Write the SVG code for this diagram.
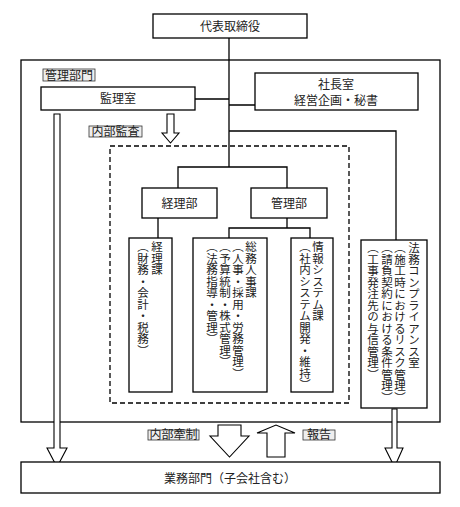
<svg xmlns="http://www.w3.org/2000/svg" width="460" height="507" viewBox="0 0 460 507">
<style>
.b{fill:#fff;stroke:#000;stroke-width:1.3}
.ln{fill:none;stroke:#000;stroke-width:1.3}
.ar{fill:#fff;stroke:#000;stroke-width:1.1;stroke-linejoin:miter}
.lb{fill:#eee;stroke:#333;stroke-width:0.8}
text{font-family:"Noto Sans CJK JP","Noto Sans",sans-serif;fill:#222;font-size:12px}
.h{text-anchor:middle}
.v{writing-mode:vertical-rl;font-size:11.5px}
</style>
<rect width="460" height="507" fill="#fff"/>
<rect id="frame" x="21" y="60" width="419" height="362" class="b"/>
<rect id="dash" x="110" y="146" width="239" height="257" fill="none" stroke="#000" stroke-width="1.3" stroke-dasharray="5,3"/>
<g id="connectors">
<path class="ln" d="M229 38V167M195 99H229M229 105H255M229 131H396V240M178 188V167H287V188M158 218V238M287 218V228M229 238V228H310V238"/>
</g>
<g id="ceo"><rect x="153" y="14" width="154" height="24" class="b"/><text x="230" y="30.5" class="h">代表取締役</text></g>
<g id="lbl1"><rect x="43" y="69" width="52" height="12" class="lb"/><text x="69" y="79.5" class="h" font-size="11">管理部門</text></g>
<g id="kansa"><rect x="41" y="87" width="154" height="23" class="b"/><text x="118" y="103" class="h">監理室</text></g>
<g id="shacho"><rect x="255" y="73" width="163" height="37" class="b"/><text x="336" y="89" class="h">社長室</text><text x="336" y="105" class="h">経営企画・秘書</text></g>
<g id="lbl2"><rect x="89" y="126" width="53" height="11" class="lb"/><text x="115.5" y="136" class="h" font-size="11">内部監査</text></g>
<g id="keiribu"><rect x="142" y="188" width="75" height="30" class="b"/><text x="179.5" y="207.5" class="h">経理部</text></g>
<g id="kanribu"><rect x="251" y="188" width="76" height="30" class="b"/><text x="289" y="207.5" class="h">管理部</text></g>
<g id="keirika"><rect x="129" y="238" width="43" height="154" class="b"/>
<text x="157" y="241" class="v">経理課</text><text x="143" y="241" class="v">（財務・会計・税務）</text></g>
<g id="somu"><rect x="193" y="238" width="74" height="154" class="b"/>
<text x="251" y="241" class="v">総務人事課</text><text x="238" y="241" class="v">（人事・採用・労務管理）</text><text x="225" y="241" class="v">（予算統制・株式管理）</text><text x="212" y="241" class="v">（法務指導・管理）</text></g>
<g id="joho"><rect x="291" y="238" width="42" height="154" class="b"/>
<text x="318" y="241" class="v">情報システム課</text><text x="305" y="241" class="v">（社内システム開発・維持）</text></g>
<g id="homu"><rect x="361" y="240" width="66" height="168" class="b"/>
<text x="414" y="242" class="v">法務コンプライアンス室</text><text x="400" y="242" class="v">（施工時におけるリスク管理）</text><text x="387" y="242" class="v">（請負契約における条件管理）</text><text x="373" y="242" class="v">（工事発注先の与信管理）</text></g>
<g id="arrows">
<path class="ar" d="M167 114H174V133H179L170.5 143L162 133H167Z"/>
<path class="ar" d="M54 114H60V448H67L57 467L47 448H54Z"/>
<path class="ar" d="M392 409H397V448H403L394.5 467L385 448H392Z"/>
<path class="ar" d="M218 425H241V436H249L229.5 457L210 436H218Z"/>
<path class="ar" d="M267 457V433H257L276 425L295 433H285V457Z"/>
</g>
<g id="lbl3"><rect x="148" y="430" width="51" height="10" class="lb"/><text x="173.5" y="439" class="h" font-size="10.5">内部牽制</text></g>
<g id="lbl4"><rect x="303" y="430" width="32" height="10" class="lb"/><text x="319" y="439" class="h" font-size="10.5">報告</text></g>
<g id="gyomu"><rect x="21" y="462" width="419" height="31" class="b"/><text x="230" y="483" class="h" font-size="15">業務部門（子会社含む）</text></g>
</svg>
